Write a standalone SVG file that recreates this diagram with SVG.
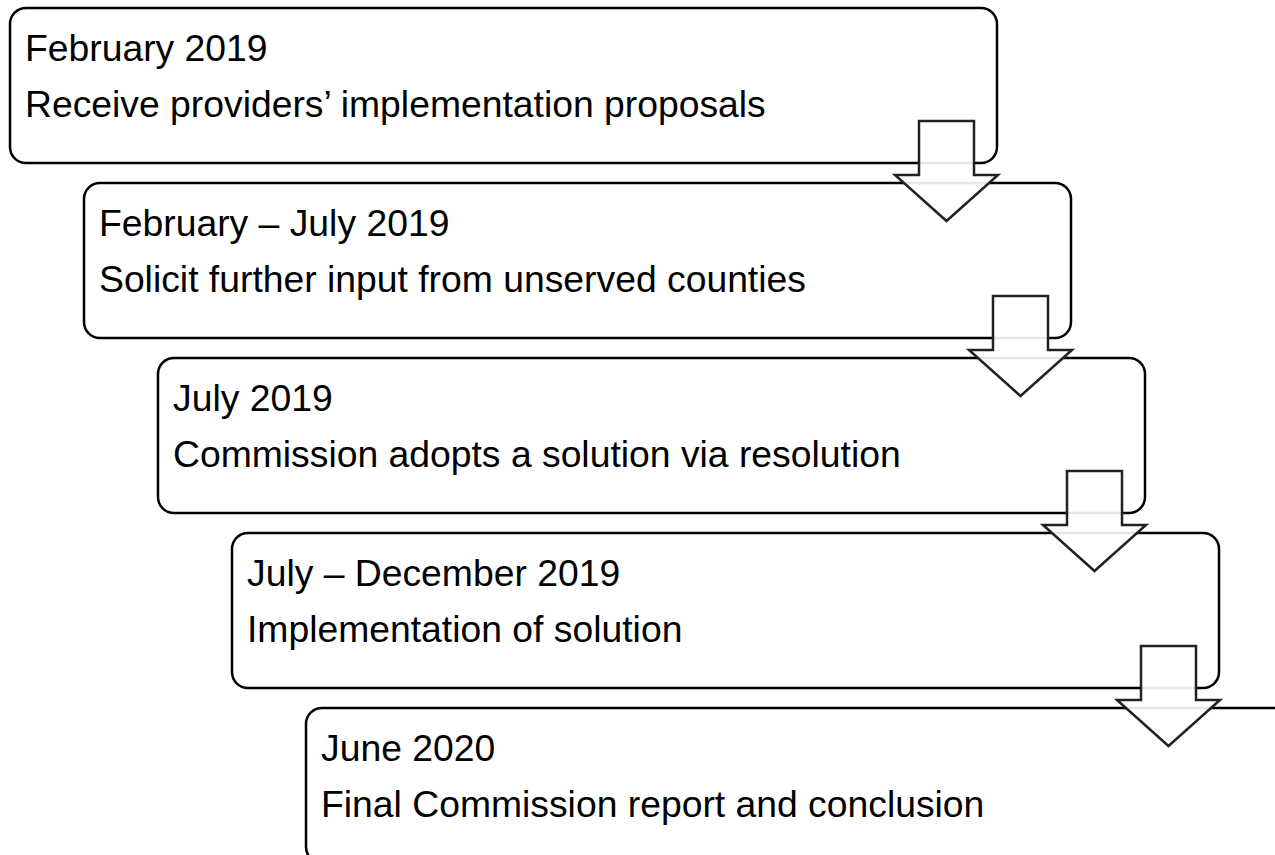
<svg xmlns="http://www.w3.org/2000/svg" width="1275" height="855" viewBox="0 0 1275 855">
<style>
.box{fill:#fff;stroke:#000;stroke-width:2.5}
.t{font-family:"Liberation Sans",Arial,sans-serif;font-size:37.3px;fill:#000}
.arr{fill:#fff;fill-opacity:0.9;stroke:#222;stroke-width:2.5;stroke-linejoin:miter}
</style>
<rect width="1275" height="855" fill="#fff"/>
<g id="node1"><rect class="box" x="10" y="8" width="987" height="155" rx="16"/>
<text class="t" x="25" y="61">February 2019</text><text class="t" x="25" y="117">Receive providers’ implementation proposals</text></g>
<g id="node2"><rect class="box" x="84" y="183" width="987" height="155" rx="16"/>
<text class="t" x="99" y="236">February – July 2019</text><text class="t" x="99" y="292">Solicit further input from unserved counties</text></g>
<g id="node3"><rect class="box" x="158" y="358" width="987" height="155" rx="16"/>
<text class="t" x="173" y="411">July 2019</text><text class="t" x="173" y="467">Commission adopts a solution via resolution</text></g>
<g id="node4"><rect class="box" x="232" y="533" width="987" height="155" rx="16"/>
<text class="t" x="247" y="586">July – December 2019</text><text class="t" x="247" y="642">Implementation of solution</text></g>
<g id="node5"><rect class="box" x="306" y="708" width="987" height="155" rx="16"/>
<text class="t" x="321" y="761">June 2020</text><text class="t" x="321" y="817">Final Commission report and conclusion</text></g>
<g id="connectors">
<path class="arr" d="M919,121 H974 V175 H998 L946.5,221 L895,175 H919 Z"/>
<path class="arr" d="M993,296 H1048 V350 H1072 L1020.5,396 L969,350 H993 Z"/>
<path class="arr" d="M1067,471 H1122 V525 H1146 L1094.5,571 L1043,525 H1067 Z"/>
<path class="arr" d="M1141,646 H1196 V700 H1220 L1168.5,746 L1117,700 H1141 Z"/>
</g>
</svg>
